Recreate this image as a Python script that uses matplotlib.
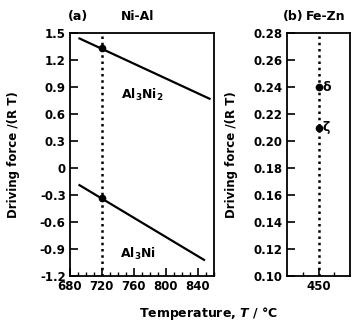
import numpy as np
import matplotlib
matplotlib.use('Agg')
import matplotlib.pyplot as plt
from matplotlib.ticker import MultipleLocator

plt.rcParams['font.family'] = ['DejaVu Sans']
plt.rcParams['font.weight'] = 'bold'
plt.rcParams['axes.labelweight'] = 'bold'
plt.rcParams['font.size'] = 8.5
plt.rcParams['mathtext.fontset'] = 'custom'
plt.rcParams['mathtext.rm'] = 'DejaVu Sans:bold'
plt.rcParams['mathtext.bf'] = 'DejaVu Sans:bold'
plt.rcParams['mathtext.it'] = 'DejaVu Sans:bold:italic'
plt.rcParams['mathtext.default'] = 'bf'

# panel (a): Ni-Al, driving force vs temperature
t_al3ni2 = [692, 855]
df_al3ni2 = [1.44, 0.77]
t_al3ni = [692, 848]
df_al3ni = [-0.19, -1.02]
t_mark = 720
mark_al3ni2 = 1.33
mark_al3ni = -0.33

# panel (b): Fe-Zn at 450 C
t_fezn = 450
phases = ['δ', 'ζ']
df_fezn = [0.240, 0.210]

fig = plt.figure(figsize=(3.53, 3.24), dpi=100)
ax1 = fig.add_axes([0.198, 0.148, 0.407, 0.750])
ax2 = fig.add_axes([0.813, 0.148, 0.179, 0.750])

# (a)
ax1.axvline(t_mark, color='black', ls=(0, (1, 1.5)), lw=1.8)
ax1.plot(t_al3ni2, df_al3ni2, color='black', lw=1.6)
ax1.plot(t_al3ni, df_al3ni, color='black', lw=1.6)
ax1.plot([t_mark, t_mark], [mark_al3ni2, mark_al3ni], 'o', color='black', ms=4.5)
ax1.text(771, 0.81, r'Al$_3$Ni$_2$', ha='center', va='center', fontsize=9)
ax1.text(766, -0.96, r'Al$_3$Ni', ha='center', va='center', fontsize=9)

ax1.set_xlim(680, 860)
ax1.set_ylim(-1.2, 1.5)
ax1.set_xticks([680, 720, 760, 800, 840])
ax1.xaxis.set_minor_locator(MultipleLocator(10))
ax1.set_yticks(np.arange(-1.2, 1.51, 0.3))
ax1.set_yticklabels(['-1.2', '-0.9', '-0.6', '-0.3', '0', '0.3', '0.6', '0.9', '1.2', '1.5'])
ax1.set_ylabel('Driving force /(R T)')
ax1.yaxis.set_label_coords(-0.345, 0.5)

# (b)
ax2.axvline(t_fezn, color='black', ls=(0, (1, 1.5)), lw=1.8)
ax2.plot([t_fezn] * len(df_fezn), df_fezn, 'o', color='black', ms=4.5)
for name, v in zip(phases, df_fezn):
    ax2.text(t_fezn + 1.3, v, name, ha='left', va='center', fontsize=9)

ax2.set_xlim(440, 460)
ax2.set_ylim(0.10, 0.28)
ax2.set_xticks([450])
ax2.set_xticks([445, 455], minor=True)
ax2.set_yticks(np.arange(0.10, 0.281, 0.02))
ax2.set_yticklabels(['%.2f' % v for v in np.arange(0.10, 0.281, 0.02)])
ax2.set_ylabel('Driving force /(R T)')
ax2.yaxis.set_label_coords(-0.778, 0.5)

for ax in (ax1, ax2):
    for s in ax.spines.values():
        s.set_linewidth(1.3)
    ax.tick_params(which='major', direction='in', length=6, width=1.2, pad=3)
    ax.tick_params(which='minor', direction='in', length=3, width=1.0)

fig.text(0.193, 0.948, '(a)', ha='left', va='center', fontsize=9)
fig.text(0.39, 0.948, 'Ni-Al', ha='center', va='center', fontsize=9)
fig.text(0.800, 0.948, '(b)', ha='left', va='center', fontsize=9)
fig.text(0.866, 0.948, 'Fe-Zn', ha='left', va='center', fontsize=9)
fig.text(209 / 353, 1 - 313 / 324, r'Temperature, $\mathit{T}$ / °C', ha='center', va='center', fontsize=9)

fig.savefig('out.png', dpi=100)
